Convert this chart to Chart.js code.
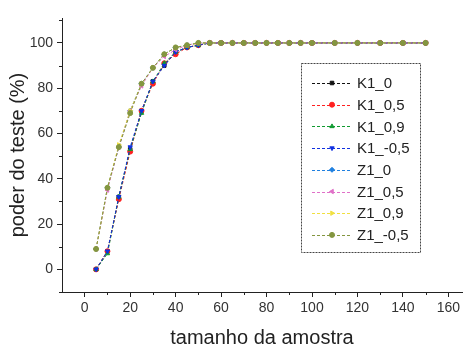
<!DOCTYPE html>
<html>
<head>
<meta charset="utf-8">
<script src="https://cdn.jsdelivr.net/npm/chart.js@4/dist/chart.umd.min.js"></script>
<style>
  html, body { margin: 0; padding: 0; background: #fff; }
  #wrap { width: 467px; height: 353px; position: relative; }
</style>
</head>
<body>
<div id="wrap"><canvas id="poderChart"></canvas></div>
<script>
// tamanho da amostra (eixo x)
const amostras = [5, 10, 15, 20, 25, 30, 35, 40, 45, 50, 55, 60, 65, 70, 75, 80, 85, 90, 95, 100, 110, 120, 130, 140, 150];

// poder do teste (%) por serie
const k1_0    = [0, 8, 32, 53, 70, 83, 90, 96, 98, 99, 100, 100, 100, 100, 100, 100, 100, 100, 100, 100, 100, 100, 100, 100, 100];
const k1_05   = [0, 8, 31, 52, 70, 82, 91, 95, 98, 99, 100, 100, 100, 100, 100, 100, 100, 100, 100, 100, 100, 100, 100, 100, 100];
const k1_09   = [0, 7, 32, 53, 69, 83, 91, 96, 98, 99, 100, 100, 100, 100, 100, 100, 100, 100, 100, 100, 100, 100, 100, 100, 100];
const k1_m05  = [0, 8, 32, 54, 70, 83, 90, 96, 98, 99, 100, 100, 100, 100, 100, 100, 100, 100, 100, 100, 100, 100, 100, 100, 100];
const z1_0    = [9, 36, 54, 70, 82, 89, 95, 98, 99, 100, 100, 100, 100, 100, 100, 100, 100, 100, 100, 100, 100, 100, 100, 100, 100];
const z1_05   = [9, 35, 54, 70, 81, 89, 94, 97, 99, 100, 100, 100, 100, 100, 100, 100, 100, 100, 100, 100, 100, 100, 100, 100, 100];
const z1_09   = [9, 36, 55, 70, 82, 89, 95, 98, 99, 100, 100, 100, 100, 100, 100, 100, 100, 100, 100, 100, 100, 100, 100, 100, 100];
const z1_m05  = [9, 36, 54, 69, 82, 89, 95, 98, 99, 100, 100, 100, 100, 100, 100, 100, 100, 100, 100, 100, 100, 100, 100, 100, 100];

const seriesNames = ['K1_0', 'K1_0,5', 'K1_0,9', 'K1_-0,5', 'Z1_0', 'Z1_0,5', 'Z1_0,9', 'Z1_-0,5'];
const seriesValues = [k1_0, k1_05, k1_09, k1_m05, z1_0, z1_05, z1_09, z1_m05];

// ticks
const xTicks = [0, 10, 20, 30, 40, 50, 60, 70, 80, 90, 100, 110, 120, 130, 140, 150, 160];
const yTicks = [-10, 0, 10, 20, 30, 40, 50, 60, 70, 80, 90, 100, 110];

const colors = ['#111111', '#ff2020', '#109a30', '#1030e0', '#1f80e0', '#e070c8', '#f0e040', '#849640'];
const styles = [
    { s: 'rect', r: 0 }, { s: 'circle', r: 0 }, { s: 'triangle', r: 0 }, { s: 'triangle', r: 180 },
    { s: 'rectRot', r: 0 }, { s: 'triangle', r: -90 }, { s: 'triangle', r: 90 }, { s: 'circle', r: 0 }
];
const axisColor = '#222';
const FONT = '"Liberation Sans", Arial, sans-serif';

// later series drawn on top, as in the original plot
const datasets = seriesNames.map((name, i) => ({
    label: name,
    data: amostras.map((x, j) => ({ x: x, y: seriesValues[i][j] })),
    borderColor: colors[i],
    backgroundColor: colors[i],
    borderWidth: 1,
    borderDash: [3, 2],
    pointStyle: styles[i].s,
    rotation: styles[i].r,
    pointRadius: 2.5,
    pointBorderWidth: 1,
    tension: 0,
    order: seriesNames.length - i
}));

// minor ticks (shorter) drawn on the axes
const minorTicks = {
    id: 'minorTicks',
    afterDraw(chart) {
        const ctx = chart.ctx;
        const xs = chart.scales.x, ys = chart.scales.y;
        ctx.save();
        ctx.strokeStyle = axisColor;
        ctx.lineWidth = 1;
        ctx.beginPath();
        xTicks.filter(v => v % 20 !== 0).forEach(v => {
            const px = Math.round(xs.getPixelForValue(v)) + 0.5;
            ctx.moveTo(px, ys.bottom);
            ctx.lineTo(px, ys.bottom + 3);
        });
        yTicks.filter(v => v % 20 !== 0).forEach(v => {
            const py = Math.round(ys.getPixelForValue(v)) + 0.5;
            ctx.moveTo(xs.left, py);
            ctx.lineTo(xs.left - 3, py);
        });
        ctx.stroke();
        ctx.restore();
    }
};

// legend box inside the plot
const boxLegend = {
    id: 'boxLegend',
    afterDraw(chart) {
        const ctx = chart.ctx;
        const left = 301, top = 63, right = 420, bottom = 252;
        ctx.save();
        ctx.fillStyle = '#fff';
        ctx.fillRect(left, top, right - left, bottom - top);
        ctx.strokeStyle = '#444';
        ctx.lineWidth = 1;
        ctx.setLineDash([2, 1]);
        ctx.strokeRect(left + 0.5, top + 0.5, right - left, bottom - top);
        ctx.font = '15px ' + FONT;
        ctx.textBaseline = 'middle';
        chart.data.datasets.forEach((ds, i) => {
            const y = 83 + i * 21.7;
            ctx.strokeStyle = ds.borderColor;
            ctx.setLineDash([3, 2]);
            ctx.beginPath();
            ctx.moveTo(312, Math.round(y) + 0.5);
            ctx.lineTo(352, Math.round(y) + 0.5);
            ctx.stroke();
            ctx.setLineDash([]);
            ctx.fillStyle = ds.backgroundColor;
            Chart.helpers.drawPoint(ctx, {
                pointStyle: ds.pointStyle, rotation: ds.rotation, radius: 2.5, borderWidth: 1
            }, 332, y);
            ctx.fillStyle = '#222';
            ctx.fillText(ds.label, 357, y + 1);
        });
        ctx.restore();
    }
};

new Chart(document.getElementById('poderChart'), {
    type: 'line',
    data: { datasets: datasets },
    options: {
        responsive: true,
        maintainAspectRatio: false,
        animation: false,
        layout: { padding: { top: 18, right: 0, left: 0, bottom: 0 } },
        plugins: { legend: { display: false }, tooltip: { enabled: false } },
        scales: {
            x: {
                type: 'linear',
                min: -10,
                max: 166,
                afterBuildTicks: s => { s.ticks = xTicks.map(v => ({ value: v })); },
                afterFit: s => { s.height = 61; },
                border: { display: true, color: axisColor, width: 1 },
                grid: {
                    drawOnChartArea: false,
                    tickLength: 5,
                    tickColor: c => (c.tick && c.tick.value % 20 === 0) ? axisColor : 'rgba(0,0,0,0)'
                },
                ticks: {
                    autoSkip: false,
                    maxRotation: 0,
                    padding: 3,
                    color: '#333',
                    font: { family: FONT, size: 14 },
                    callback: v => (v % 20 === 0 ? String(v) : '')
                },
                title: {
                    display: true,
                    text: 'tamanho da amostra',
                    color: '#222',
                    font: { family: FONT, size: 20 },
                    padding: { top: 0, bottom: 3 }
                }
            },
            y: {
                min: -10,
                max: 111,
                afterBuildTicks: s => { s.ticks = yTicks.map(v => ({ value: v })); },
                afterFit: s => { s.width = 62; },
                border: { display: true, color: axisColor, width: 1 },
                grid: {
                    drawOnChartArea: false,
                    tickLength: 5,
                    tickColor: c => (c.tick && c.tick.value % 20 === 0 && c.tick.value >= 0) ? axisColor : 'rgba(0,0,0,0)'
                },
                ticks: {
                    autoSkip: false,
                    padding: 4,
                    color: '#333',
                    font: { family: FONT, size: 14 },
                    callback: v => (v % 20 === 0 && v >= 0 ? String(v) : '')
                },
                title: {
                    display: true,
                    text: 'poder do teste (%)',
                    color: '#222',
                    font: { family: FONT, size: 20 },
                    padding: { top: 6, bottom: 0 }
                }
            }
        }
    },
    plugins: [minorTicks, boxLegend]
});
</script>
</body>
</html>
